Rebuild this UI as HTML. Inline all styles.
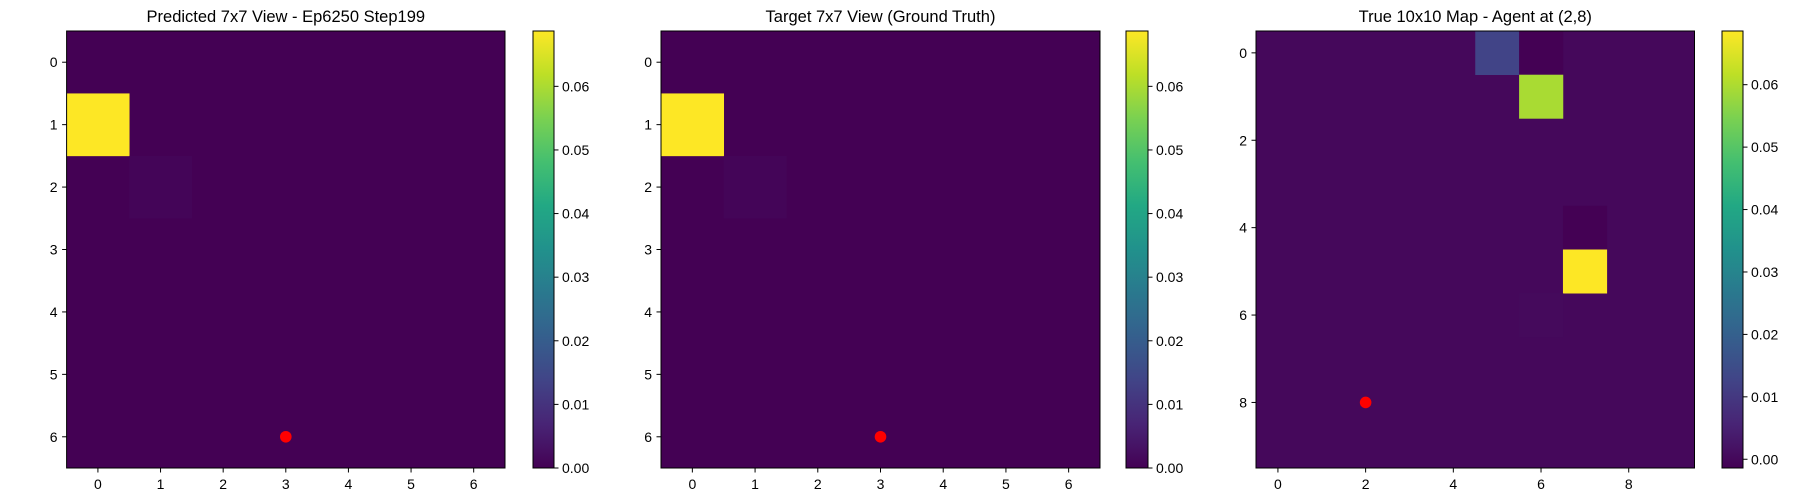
<!DOCTYPE html>
<html><head><meta charset="utf-8"><style>
body{margin:0;background:#fff;}
svg{display:block;font-family:"Liberation Sans","DejaVu Sans",sans-serif;}
</style></head><body>
<svg id="fig" width="1800" height="500" viewBox="0 0 1800 500" xmlns="http://www.w3.org/2000/svg"></svg>
<script>
// ---- data ----
const titles = ["Predicted 7x7 View - Ep6250 Step199", "Target 7x7 View (Ground Truth)", "True 10x10 Map - Agent at (2,8)"];
const gridSizes = [7, 7, 10];
const predictedCells = [[1,0,0.0687],[2,1,0.0008]]; // [row,col,value], others 0
const targetCells = [[1,0,0.0687],[2,1,0.0008]];
const trueMapCells = [[0,5,0.0125],[0,6,-0.0014],[1,6,0.0595],[4,7,-0.0014],[5,7,0.0686],[6,6,0.0004]];
const backgroundValues = [0, 0, 0];
const vmins = [0, 0, -0.0014];
const vmaxs = [0.0687, 0.0687, 0.0686];
const agentX = [3, 3, 2];
const agentY = [6, 6, 8];
const axisTicks7 = [0,1,2,3,4,5,6];
const axisTicks10 = [0,2,4,6,8];
const cbarTicks = [0.00,0.01,0.02,0.03,0.04,0.05,0.06];

// ---- layout ----
const panels = [
  {x0:66.6, x1:505, cb0:533, cb1:554},
  {x0:661, x1:1100, cb0:1126, cb1:1148},
  {x0:1256, x1:1694.5, cb0:1722, cb1:1743}
];
const Y0 = 31, Y1 = 468;
const svg = document.getElementById('fig');
const NS = "http://www.w3.org/2000/svg";
function mk(tag, attrs, parent){
  const e = document.createElementNS(NS, tag);
  for (const k in attrs) e.setAttribute(k, attrs[k]);
  (parent||svg).appendChild(e);
  return e;
}
const VIR = ["#440154","#482475","#414487","#355f8d","#2a788e","#21918c","#22a884","#44bf70","#7ad151","#bddf26","#fde725"];
function hex2rgb(h){return [parseInt(h.substr(1,2),16),parseInt(h.substr(3,2),16),parseInt(h.substr(5,2),16)];}
function viridis(t){
  t = Math.max(0, Math.min(1, t));
  const p = t*10, i = Math.min(9, Math.floor(p)), f = p - i;
  const a = hex2rgb(VIR[i]), b = hex2rgb(VIR[i+1]);
  return "rgb(" + a.map((v,k)=>Math.round(v+(b[k]-v)*f)).join(",") + ")";
}
const cellSets = [predictedCells, targetCells, trueMapCells];

panels.forEach((P, pi) => {
  const n = gridSizes[pi];
  const vmin = vmins[pi], vmax = vmaxs[pi];
  const cw = (P.x1 - P.x0) / n, ch = (Y1 - Y0) / n;
  const xs = c => P.x0 + (c + 0.5) * cw;
  const ys = r => Y0 + (r + 0.5) * ch;
  const col = v => viridis((v - vmin) / (vmax - vmin));
  const g = mk('g', {});
  
  
  const bg = mk('rect', {x:P.x0, y:Y0, width:P.x1-P.x0, height:Y1-Y0, fill:col(backgroundValues[pi])}, g);
  
  
  cellSets[pi].forEach(([r, c, v]) => {
    const rc = mk('rect', {x:xs(c)-cw/2, y:ys(r)-ch/2, width:cw+0.3, height:ch+0.3, fill:col(v)}, g);
    
    
  });
  const dot = mk('circle', {cx:xs(agentX[pi]), cy:ys(agentY[pi]), r:5.8, fill:'#ff0000'}, g);
  
  
  const frame = mk('rect', {x:P.x0, y:Y0, width:P.x1-P.x0, height:Y1-Y0, fill:'none', stroke:'#000', 'stroke-width':1}, g);
  
  
  const ticks = n === 7 ? axisTicks7 : axisTicks10;
  ticks.forEach(t => {
    mk('line', {x1:xs(t), x2:xs(t), y1:Y1, y2:Y1+4.5, stroke:'#000', 'stroke-width':1}, g);
    const tx = mk('text', {x:xs(t), y:Y1+21, 'font-size':14, 'text-anchor':'middle', fill:'#000'}, g);
    tx.textContent = t;
    
    
    mk('line', {x1:P.x0-4.5, x2:P.x0, y1:ys(t), y2:ys(t), stroke:'#000', 'stroke-width':1}, g);
    const ty = mk('text', {x:P.x0-9, y:ys(t)+5, 'font-size':14, 'text-anchor':'end', fill:'#000'}, g);
    ty.textContent = t;
    
    
  });
  const title = mk('text', {x:(P.x0+P.x1)/2, y:22, 'font-size':16.5, 'text-anchor':'middle', fill:'#000'}, g);
  title.textContent = titles[pi];
  
  
  const cg = mk('g', {});
  
  
  const gid = 'grad' + pi;
  const defs = mk('defs', {}, cg);
  const lg = mk('linearGradient', {id:gid, x1:0, y1:1, x2:0, y2:0}, defs);
  for (let i = 0; i <= 20; i++) mk('stop', {offset:(i/20), 'stop-color':viridis(i/20)}, lg);
  mk('rect', {x:P.cb0, y:Y0, width:P.cb1-P.cb0, height:Y1-Y0, fill:'url(#'+gid+')', stroke:'#000', 'stroke-width':1}, cg);
  const cy = v => Y1 - (v - vmin) / (vmax - vmin) * (Y1 - Y0);
  cbarTicks.forEach(t => {
    mk('line', {x1:P.cb1, x2:P.cb1+4.5, y1:cy(t), y2:cy(t), stroke:'#000', 'stroke-width':1}, cg);
    const tl = mk('text', {x:P.cb1+8, y:cy(t)+5, 'font-size':14, fill:'#000'}, cg);
    tl.textContent = t.toFixed(2);
    
    
  });
});
</script>
</body></html>
